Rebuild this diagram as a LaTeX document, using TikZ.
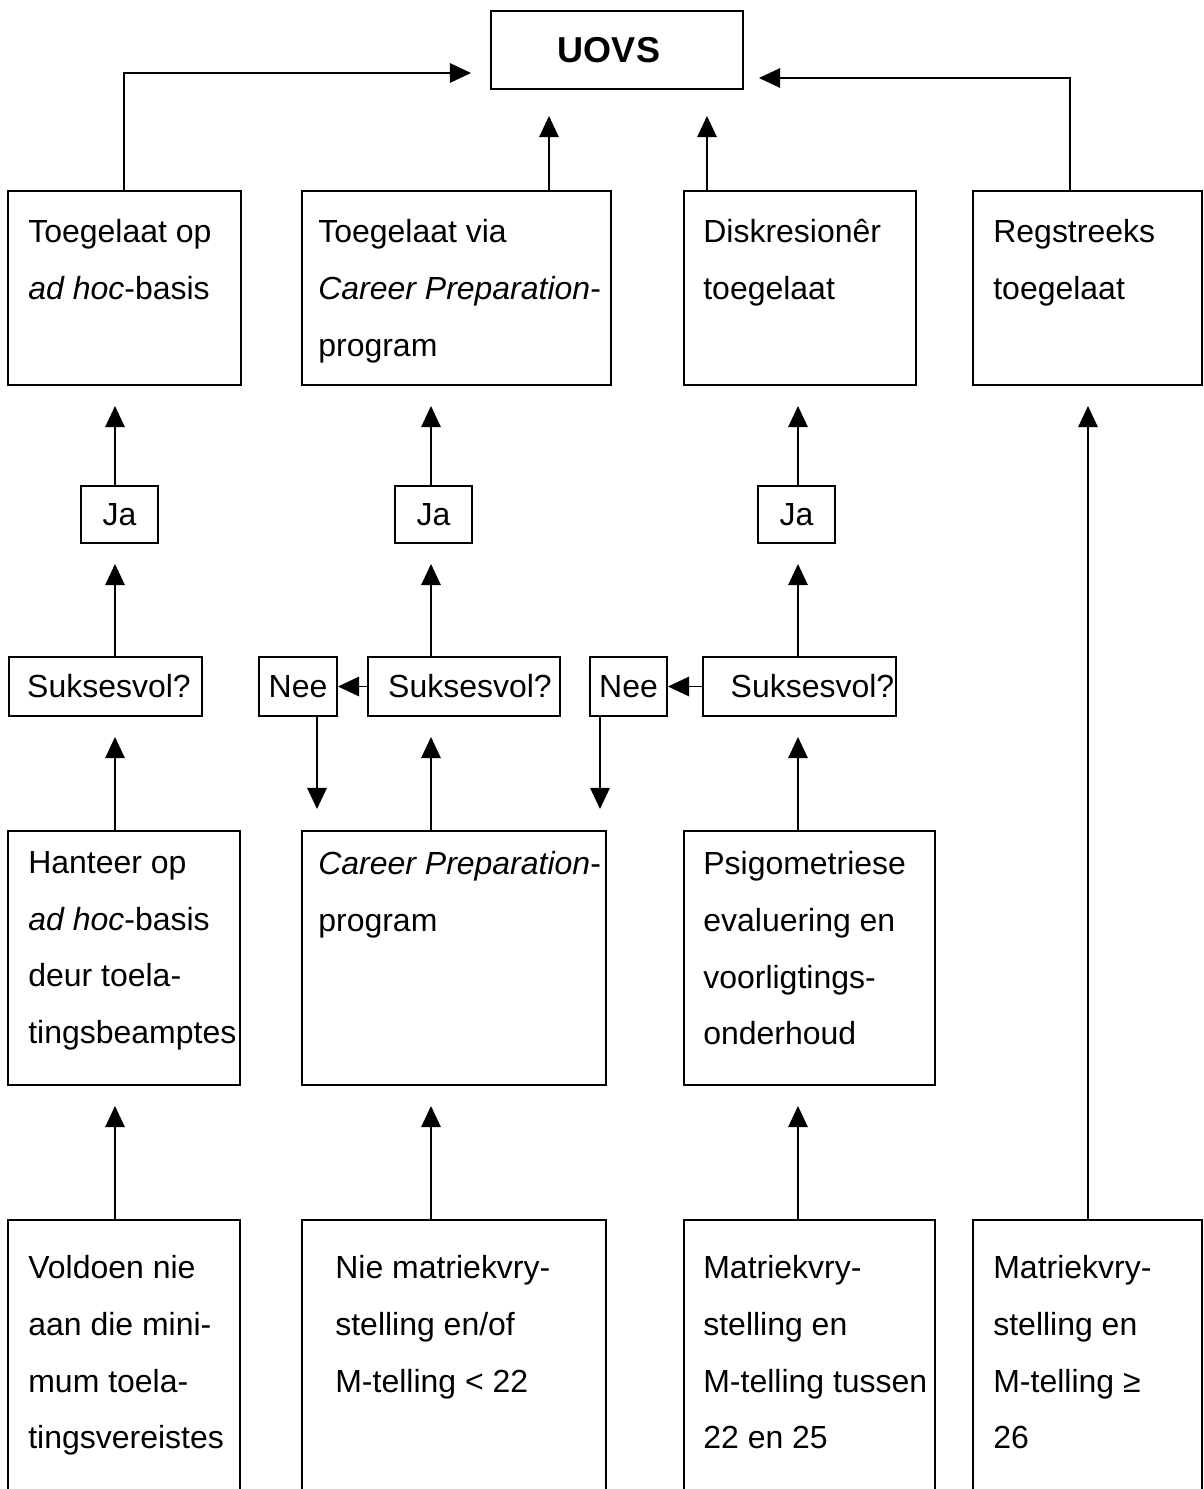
\documentclass[tikz,border=0pt]{standalone}
\usepackage{fontspec}
\setmainfont{Liberation Sans}
\usetikzlibrary{arrows.meta,fit}
\begin{document}
\begin{tikzpicture}[x=0.02cm,y=-0.02cm,
 bx/.style={draw,line width=1.1pt,inner sep=0pt,rectangle},
 txt/.style={anchor=north west,inner sep=0pt,align=left,font=\fontsize{18.2}{32.3}\selectfont},
 lbl/.style={inner sep=0pt,font=\fontsize{18.2}{21}\selectfont},
 arr/.style={line width=1.1pt,-{Triangle[length=12pt,width=11pt]}},
 gap/.style={shorten >=0.4cm}]
\useasboundingbox (0,0) rectangle (1204,1489);
\clip (0,0) rectangle (1204,1489);
% column coordinates
\coordinate (cA) at (115,0);
\coordinate (cAu) at (124,0);
\coordinate (cB) at (431,0);
\coordinate (cBu) at (549,0);
\coordinate (cC) at (798,0);
\coordinate (cCu) at (707,0);
\coordinate (cD) at (1088,0);
\coordinate (cDu) at (1070,0);
\coordinate (nB) at (317,0);
\coordinate (nC) at (600,0);
% UOVS
\node[bx,fit={(491,11) (743,89)}] (uovs) {};
\node[inner sep=0pt,font=\bfseries\fontsize{20.5}{24}\selectfont] (uovsT) at ([xshift=-0.16cm]uovs.center) {UOVS};
% top row
\node[bx,fit={(8,191) (241,385)}] (topA) {};
\node[bx,fit={(302,191) (611,385)}] (topB) {};
\node[bx,fit={(684,191) (916,385)}] (topC) {};
\node[bx,fit={(973,191) (1202,385)}] (topD) {};
\node[txt] (tA) at ([shift={(20,28)}]8,191) {Toegelaat op\\\textit{ad hoc}-basis};
\node[txt] (tB) at ([shift={(16,28)}]302,191) {Toegelaat via\\\textit{Career Preparation}-\\program};
\node[txt] (tC) at ([shift={(19,28)}]684,191) {Diskresionêr\\toegelaat};
\node[txt] (tD) at ([shift={(20,28)}]973,191) {Regstreeks\\toegelaat};
% Ja
\node[bx,fit={(81,486) (158,543)}] (jaA) {};
\node[bx,fit={(395,486) (472,543)}] (jaB) {};
\node[bx,fit={(758,486) (835,543)}] (jaC) {};
\node[lbl] (jaAT) at (jaA.center) {Ja};
\node[lbl] (jaBT) at (jaB.center) {Ja};
\node[lbl] (jaCT) at (jaC.center) {Ja};
% Suksesvol / Nee
\node[bx,fit={(9,657) (202,716)}] (sukA) {};
\node[bx,fit={(368,657) (560,716)}] (sukB) {};
\node[bx,fit={(703,657) (896,716)}] (sukC) {};
\node[bx,fit={(259,657) (337,716)}] (neeB) {};
\node[bx,fit={(590,657) (667,716)}] (neeC) {};
\node[lbl] (sukAT) at ([xshift=0.07cm]sukA.center) {Suksesvol?};
\node[lbl] (sukBT) at ([xshift=0.12cm]sukB.center) {Suksesvol?};
\node[lbl] (sukCT) at ([xshift=0.26cm]sukC.center) {Suksesvol?};
\node[lbl] (neeBT) at (neeB.center) {Nee};
\node[lbl] (neeCT) at (neeC.center) {Nee};
% middle row
\node[bx,fit={(8,831) (240,1085)}] (midA) {};
\node[bx,fit={(302,831) (606,1085)}] (midB) {};
\node[bx,fit={(684,831) (935,1085)}] (midC) {};
\node[txt] (mA) at ([shift={(20,20)}]8,831) {Hanteer op\\\textit{ad hoc}-basis\\deur toela-\\tingsbeamptes};
\node[txt] (mB) at ([shift={(16,20)}]302,831) {\textit{Career Preparation}-\\program};
\node[txt] (mC) at ([shift={(19,20)}]684,831) {Psigometriese\\evaluering en\\voorligtings-\\onderhoud};
% bottom row
\node[bx,fit={(8,1220) (240,1530)}] (botA) {};
\node[bx,fit={(302,1220) (606,1530)}] (botB) {};
\node[bx,fit={(684,1220) (935,1530)}] (botC) {};
\node[bx,fit={(973,1220) (1202,1530)}] (botD) {};
\node[txt] (bA) at ([shift={(20,35)}]8,1220) {Voldoen nie\\aan die mini-\\mum toela-\\tingsvereistes};
\node[txt] (bB) at ([shift={(33,35)}]302,1220) {Nie matriekvry-\\stelling en/of\\M-telling < 22};
\node[txt] (bC) at ([shift={(19,35)}]684,1220) {Matriekvry-\\stelling en\\M-telling tussen\\22 en 25};
\node[txt] (bD) at ([shift={(20,35)}]973,1220) {Matriekvry-\\stelling en\\M-telling ≥\\26};
% arrows to UOVS
\draw[arr,shorten >=0.38cm] (topA.north -| cAu) |- ([yshift=-0.46cm]uovs.west);
\draw[arr,shorten >=0.3cm] (topD.north -| cDu) |- ([yshift=-0.56cm]uovs.east);
\draw[arr,shorten >=0.52cm] (topB.north -| cBu) -- (uovs.south -| cBu);
\draw[arr,shorten >=0.52cm] (topC.north -| cCu) -- (uovs.south -| cCu);
% column A
\draw[arr,gap] (jaA.north -| cA) -- (topA.south -| cA);
\draw[arr,gap] (sukA.north -| cA) -- (jaA.south -| cA);
\draw[arr,gap] (midA.north -| cA) -- (sukA.south -| cA);
\draw[arr,gap] (botA.north -| cA) -- (midA.south -| cA);
% column B
\draw[arr,gap] (jaB.north -| cB) -- (topB.south -| cB);
\draw[arr,gap] (sukB.north -| cB) -- (jaB.south -| cB);
\draw[arr,gap] (midB.north -| cB) -- (sukB.south -| cB);
\draw[arr,gap] (botB.north -| cB) -- (midB.south -| cB);
\draw[arr] (sukB.west) -- (neeB.east);
\draw[arr,shorten >=0.42cm] (neeB.south -| nB) -- (midB.north -| nB);
% column C
\draw[arr,gap] (jaC.north -| cC) -- (topC.south -| cC);
\draw[arr,gap] (sukC.north -| cC) -- (jaC.south -| cC);
\draw[arr,gap] (midC.north -| cC) -- (sukC.south -| cC);
\draw[arr,gap] (botC.north -| cC) -- (midC.south -| cC);
\draw[arr] (sukC.west) -- (neeC.east);
\draw[arr,shorten >=0.42cm] (neeC.south -| nC) -- (midB.north -| nC);
% column D
\draw[arr,gap] (botD.north -| cD) -- (topD.south -| cD);
\end{tikzpicture}
\end{document}
